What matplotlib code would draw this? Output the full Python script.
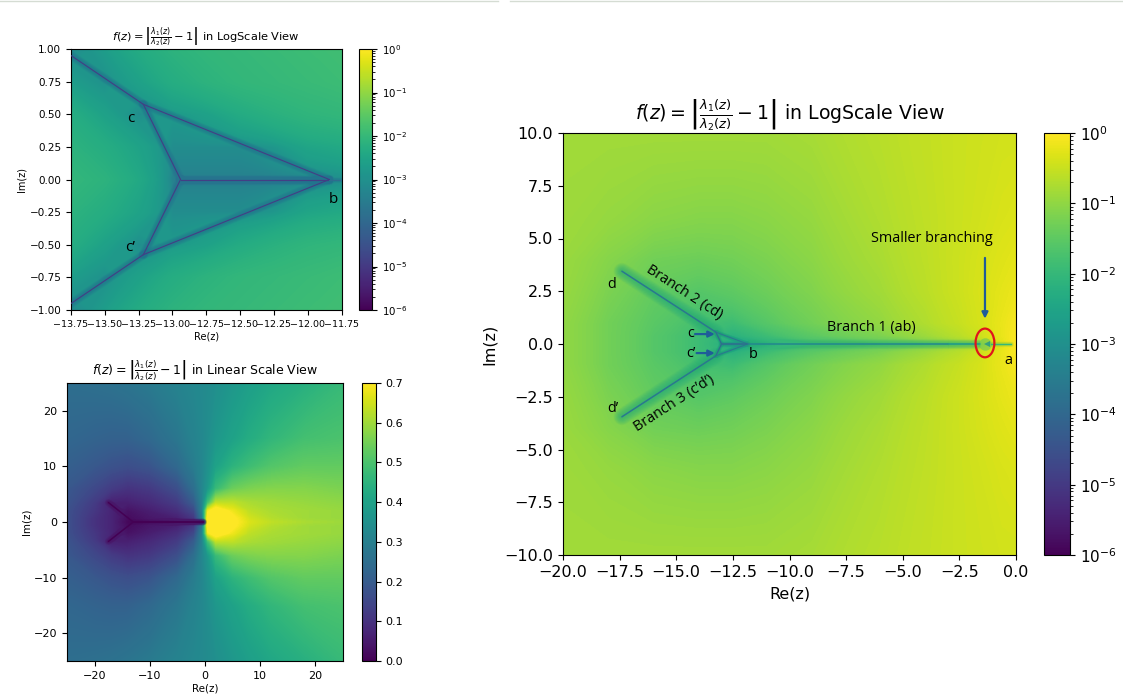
import numpy as np
import matplotlib
matplotlib.use("Agg")
import matplotlib.pyplot as plt
from matplotlib.cm import ScalarMappable
from matplotlib.colors import LogNorm, Normalize
from matplotlib.lines import Line2D
from matplotlib.patches import Ellipse

# all heat map values are estimated by eye from the picture, upper half only (mirrored in y)

# top left, log10(f)
zoom_x = [-13.75, -13.5, -13.25, -13.0, -12.75, -12.5, -12.25, -12.0, -11.75]
zoom_y = [1.0, 0.75, 0.5, 0.25, 0.0]
zoom_log = [
    [-3.3, -2.7, -2.35, -2.15, -2.05, -2.0, -1.95, -1.9, -1.85],
    [-2.7, -3.0, -2.6, -2.3, -2.15, -2.05, -2.0, -1.95, -1.9],
    [-2.3, -2.6, -3.1, -2.8, -2.6, -2.35, -2.2, -2.1, -2.05],
    [-2.15, -2.3, -2.55, -3.1, -3.1, -3.1, -2.85, -2.5, -2.4],
    [-2.05, -2.15, -2.4, -3.4, -3.4, -3.4, -3.4, -3.3, -3.1],
]
zoom_branches = [
    ([-13.75, -13.215], [0.95, 0.576]),
    ([-13.215, -12.94], [0.576, 0.0]),
    ([-13.215, -11.84], [0.576, 0.0]),
    ([-12.94, -11.84], [0.0, 0.0]),
]
zoom_tail_x = [-11.84, -11.75]

# bottom left, linear f
lin_x = [-25, -20, -17, -14, -10, -5, -2, -0.5, 0.5, 2, 5, 8, 12, 18, 25]
lin_y = [25, 15, 10, 6, 3.5, 2, 0.7, 0]
lin_val = [
    [.25, .255, .26, .27, .285, .31, .325, .33, .335, .345, .37, .39, .415, .44, .47],
    [.23, .22, .215, .215, .235, .275, .31, .325, .34, .37, .40, .43, .46, .49, .50],
    [.21, .19, .175, .165, .18, .235, .29, .32, .35, .40, .45, .48, .51, .53, .53],
    [.19, .15, .12, .10, .115, .165, .25, .32, .37, .47, .54, .56, .57, .57, .56],
    [.18, .12, .06, .06, .08, .12, .20, .31, .48, .63, .63, .61, .60, .59, .58],
    [.17, .11, .07, .03, .055, .09, .15, .31, .68, .74, .68, .63, .61, .60, .59],
    [.17, .10, .07, .02, .04, .06, .11, .28, .74, .78, .71, .65, .62, .60, .59],
    [.17, .10, .07, .01, .015, .02, .03, .05, .75, .79, .715, .66, .63, .61, .595],
]
lin_fork_x = [-17.5, -13.0, -0.3]
lin_fork_y = [3.5, 0.0, 0.0]

# right, log10(f)
full_x = [-20, -18, -16, -14, -12.5, -11, -9, -6, -4, -2.5, -1.5, -0.6, 0]
full_y = [10, 6, 4, 2.5, 1, 0.4, 0]
full_log = [
    [-.85, -.85, -.85, -.85, -.85, -.85, -.8, -.65, -.55, -.48, -.45, -.42, -.42],
    [-.88, -.95, -1.05, -1.1, -1.1, -1.05, -.95, -.72, -.58, -.48, -.42, -.36, -.33],
    [-.92, -1.1, -1.3, -1.35, -1.3, -1.2, -1.05, -.78, -.6, -.47, -.38, -.3, -.25],
    [-.95, -1.2, -1.45, -1.6, -1.5, -1.35, -1.15, -.85, -.63, -.47, -.36, -.25, -.18],
    [-1.0, -1.3, -1.55, -1.8, -1.9, -1.6, -1.3, -.98, -.72, -.52, -.38, -.2, -.08],
    [-1.0, -1.3, -1.6, -1.9, -2.2, -1.9, -1.55, -1.2, -.9, -.65, -.45, -.2, -.05],
    [-1.0, -1.3, -1.6, -1.9, -2.5, -2.3, -1.9, -1.6, -1.4, -1.1, -.8, -.3, -.03],
]
full_d = (-17.4, 3.45)
full_c = (-13.25, 0.56)
full_j = (-13.0, 0.0)
full_b = (-11.85, 0.0)
full_a_x = [-11.85, -3.0, -1.6]
full_tail_x = [-1.1, -0.2]

W, H = 1123, 697
fig = plt.figure(figsize=(W / 100, H / 100), dpi=100)
TITLE = r"$f(z) = \left|\frac{\lambda_1(z)}{\lambda_2(z)} - 1\right|$"
LABEL_FONT = ["Open Sans", "DejaVu Sans"]
ARROW = "#1f5c99"


def px_axes(left, right, top, bottom):
    return fig.add_axes([left / W, 1 - bottom / H, (right - left) / W, (bottom - top) / H])


def mirrored(ys, rows):
    ys = np.array(ys, dtype=float)
    rows = np.array(rows, dtype=float)
    return np.concatenate([ys, -ys[-2::-1]]), np.vstack([rows, rows[-2::-1]])


def glow(ax, xs, ys, core, halo, width, spread, layers=16, cap="round"):
    # soft valley round a branch: wide faint strokes under a thin core
    for i in range(layers):
        lw = width + spread * (1 - i / layers)
        ax.plot(xs, ys, color=halo, lw=lw, alpha=0.055, solid_capstyle=cap, zorder=2)
    ax.plot(xs, ys, color=core, lw=width, solid_capstyle="round", solid_joinstyle="round", zorder=3)


def finish(ax, cax, norm, title, tick, cbar_tick, label, title_size, pad=6, labelpad=2):
    cb = fig.colorbar(ScalarMappable(norm=norm, cmap="viridis"), cax=cax)
    cb.ax.tick_params(labelsize=cbar_tick)
    ax.tick_params(labelsize=tick)
    ax.set_xlabel("Re(z)", fontsize=label, labelpad=labelpad)
    ax.set_ylabel("Im(z)", fontsize=label, labelpad=labelpad)
    ax.set_title(title, fontsize=title_size, pad=pad)
    return cb


log_norm = LogNorm(1e-6, 1)
log_levels = np.logspace(-6, 0, 257)
colors = plt.get_cmap("viridis")


def log_color(v):
    return colors(log_norm(10.0 ** v))


# top left
ax1 = px_axes(71, 341.5, 49, 310)
cax1 = px_axes(359, 372, 49, 310)
y1, z1 = mirrored(zoom_y, zoom_log)
ax1.contourf(zoom_x, y1, 10.0 ** z1, levels=log_levels, norm=log_norm, cmap="viridis", extend="both")
for xs, ys in zoom_branches:
    for sign in (1, -1):
        glow(ax1, xs, sign * np.array(ys), log_color(-4.9), log_color(-3.7), 0.8, 6.0)
glow(ax1, zoom_tail_x, [0, 0], log_color(-3.9), log_color(-3.4), 0.8, 3.0)
ax1.set_xlim(-13.75, -11.75)
ax1.set_ylim(-1, 1)
ax1.set_xticks(np.array([-13.75, -13.5, -13.25, -13, -12.75, -12.5, -12.25, -12, -11.75]))
ax1.set_yticks(np.array([-1, -.75, -.5, -.25, 0, .25, .5, .75, 1]))
finish(ax1, cax1, log_norm, TITLE + " in LogScale View", 7.5, 7.4, 7.0, 8.2, pad=4)
ax1.tick_params(axis="x", labelsize=6.8)
ax1.text(-13.31, 0.47, "c", fontsize=11, family=LABEL_FONT, ha="center", va="center")
ax1.text(-13.31, -0.52, "c\u2019", fontsize=11, family=LABEL_FONT, ha="center", va="center")
ax1.text(-11.81, -0.15, "b", fontsize=11, family=LABEL_FONT, ha="center", va="center")

# bottom left
ax2 = px_axes(67, 343, 383, 661)
cax2 = px_axes(362, 376, 383, 661)
y2, z2 = mirrored(lin_y, lin_val)
lin_norm = Normalize(0, 0.7)
ax2.contourf(lin_x, y2, z2, levels=np.linspace(0, 0.7, 257), norm=lin_norm, cmap="viridis", extend="both")
for sign in (1, -1):
    glow(ax2, lin_fork_x, sign * np.array(lin_fork_y), colors(0.0), colors(0.06), 1.1, 4.0)
ax2.set_xlim(-25, 25)
ax2.set_ylim(-25, 25)
ax2.set_xticks([-20, -10, 0, 10, 20])
ax2.set_yticks([-20, -10, 0, 10, 20])
finish(ax2, cax2, lin_norm, TITLE + " in Linear Scale View", 8.0, 8.0, 7.4, 9.0, pad=4)

# right
ax3 = px_axes(563, 1016, 133, 555)
cax3 = px_axes(1044, 1070, 133, 555)
y3, z3 = mirrored(full_y, full_log)
ax3.contourf(full_x, y3, 10.0 ** z3, levels=log_levels, norm=log_norm, cmap="viridis", extend="both")
for sign in (1, -1):
    glow(ax3, [full_d[0], full_c[0]], [sign * full_d[1], sign * full_c[1]],
         log_color(-3.6), log_color(-2.3), 1.1, 11.0)
    glow(ax3, [full_c[0], full_j[0]], [sign * full_c[1], sign * full_j[1]],
         log_color(-3.9), log_color(-2.6), 0.9, 2.5)
    glow(ax3, [full_c[0], full_b[0]], [sign * full_c[1], sign * full_b[1]],
         log_color(-3.6), log_color(-2.6), 0.8, 2.5)
glow(ax3, [full_j[0], full_b[0]], [0, 0], log_color(-3.8), log_color(-2.8), 1.2, 2.5)
glow(ax3, full_a_x[:2], [0, 0], log_color(-3.2), log_color(-2.0), 1.1, 6.0, cap="butt")
glow(ax3, full_a_x[1:], [0, 0], log_color(-2.8), log_color(-2.0), 1.1, 6.0, cap="butt")
glow(ax3, full_tail_x, [0, 0], log_color(-2.0), log_color(-1.0), 1.0, 3.0)
ax3.plot([-1.35], [0], "o", color=log_color(-1.9), ms=9, alpha=0.4, mew=0, zorder=3)
ax3.plot([-1.3], [0], "<", color=log_color(-2.9), ms=4, alpha=0.8, mew=0, zorder=3)
ax3.set_xlim(-20, 0)
ax3.set_ylim(-10, 10)
finish(ax3, cax3, log_norm, TITLE + " in LogScale View", 11.5, 11.0, 11.5, 13.6, pad=6, labelpad=5)

ax3.add_patch(Ellipse((-1.37, 0.05), 0.83, 1.36, fill=False, ec="#e0141c", lw=1.6, zorder=5))
for text, x, y, rot in [
    ("Smaller branching", -3.7, 5.0, 0),
    ("Branch 1 (ab)", -6.4, 0.8, 0),
    ("Branch 2 (cd)", -14.66, 2.46, -33),
    ("Branch 3 (c\u2019d\u2019)", -15.1, -2.8, 33),
    ("d", -17.84, 2.84, 0),
    ("d\u2019", -17.8, -3.08, 0),
    ("c", -14.35, 0.5, 0),
    ("c\u2019", -14.35, -0.47, 0),
    ("b", -11.6, -0.5, 0),
    ("a", -0.35, -0.76, 0),
]:
    ax3.text(x, y, text, fontsize=10.4, family=LABEL_FONT, rotation=rot,
             rotation_mode="anchor", ha="center", va="center", zorder=6)
for start, end in [((-1.37, 4.08), (-1.37, 1.2)), ((-14.17, 0.47), (-13.3, 0.47)), ((-14.1, -0.43), (-13.3, -0.43))]:
    ax3.annotate("", xy=end, xytext=start, zorder=6,
                 arrowprops=dict(arrowstyle="-|>", color=ARROW, lw=1.6, mutation_scale=9, shrinkA=0, shrinkB=0))

# thin window edge along the top of the screenshot
for x0, x1 in [(0, 498), (510, W)]:
    fig.add_artist(Line2D([x0 / W, x1 / W], [1 - 1 / H, 1 - 1 / H], color="#d5dcd3", lw=1.0))

fig.savefig("out.png", dpi=100)
